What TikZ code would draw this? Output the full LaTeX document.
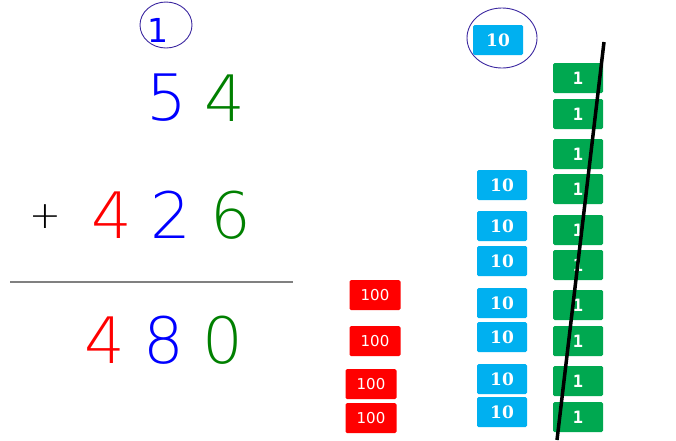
\documentclass[tikz,border=0pt]{standalone}
\usepackage{fontspec}
\newfontfamily\digitfont{DejaVu Sans ExtraLight}
\newfontfamily\tenfont{DejaVu Serif}
\newfontfamily\onefont{DejaVu Sans Mono}
\newfontfamily\hundredfont{DejaVu Sans}
\usepackage{xcolor}
\usetikzlibrary{positioning}

\definecolor{digitblue}{RGB}{0,0,255}
\definecolor{digitgreen}{RGB}{0,128,0}
\definecolor{digitred}{RGB}{255,0,0}
\definecolor{tilecyan}{RGB}{0,176,240}
\definecolor{tilegreen}{RGB}{0,168,80}
\definecolor{tilered}{RGB}{255,0,0}
\definecolor{ringcol}{RGB}{60,40,160}

\begin{document}
\begin{tikzpicture}[x=1pt,y=-1pt,
	digit/.style={font=\digitfont\fontsize{64}{64}\selectfont, inner sep=0pt},
	tile/.style={minimum width=50pt, minimum height=30pt, inner sep=0pt,
		rounded corners=1.5pt, text=white},
	tenbox/.style={tile, fill=tilecyan, font=\tenfont\bfseries\fontsize{17}{17}\selectfont},
	onebox/.style={tile, fill=tilegreen, font=\onefont\bfseries\fontsize{17}{17}\selectfont},
	hundredbox/.style={tile, fill=tilered, minimum width=51pt, font=\hundredfont\fontsize{15}{15}\selectfont},
	ring/.style={draw=ringcol, line width=0.9pt}]
	
	\useasboundingbox (0,0) rectangle (676,440);
	
	% step number
	\draw[ring] (166,25) ellipse [x radius=26pt, y radius=23pt];
	\node[inner sep=0pt, text=digitblue, font=\hundredfont\fontsize{33}{33}\selectfont] (stepNo) at (158,30) {1};
	
	% the sum
	\node[digit, text=digitblue] (aTen) at (167,98) {5};
	\node[digit, text=digitgreen] (aOne) at (225,98) {4};
	
	\node[digit, font=\digitfont\fontsize{38}{38}\selectfont] (plus) at (45,217) {+};
	\node[digit, text=digitred] (bHundred) at (112,215) {4};
	\node[digit, text=digitblue] (bTen) at (171,215) {2};
	\node[digit, text=digitgreen] (bOne) at (231,215) {6};
	
	\coordinate (ruleL) at (10,282);
	\coordinate (ruleR) at (293,282);
	\draw[gray, line width=1.5pt] (ruleL) -- (ruleR);
	
	\node[digit, text=digitred] (sHundred) at (105,340) {4};
	\node[digit, text=digitblue] (sTen) at (164,340) {8};
	\node[digit, text=digitgreen] (sOne) at (223,340) {0};
	
	% blocks
	\foreach \xx/\yy [count=\i] in {375/295,375/341,371/384,371/418}
		\node[hundredbox] (hundred\i) at (\xx,\yy) {100};
	
	\foreach \yy [count=\i] in {185,226,261,303,337,379,412}
		\node[tenbox] (ten\i) at (502,\yy) {10};
	
	\node[tenbox] (tenCarry) at (498,40) {10};
	\draw[ring] (502,38) ellipse [x radius=35pt, y radius=30pt];
	
	\foreach \yy [count=\i] in {78,114,154,189,230,265,305,341,381,417}
		\node[onebox] (one\i) at (578,\yy) {1};
	
	% ten ones crossed out
	\coordinate (strikeTop) at (604,42);
	\coordinate (strikeBot) at (557,440);
	\draw[line width=3.5pt] (strikeTop) -- (strikeBot);
	
\end{tikzpicture}
\end{document}
